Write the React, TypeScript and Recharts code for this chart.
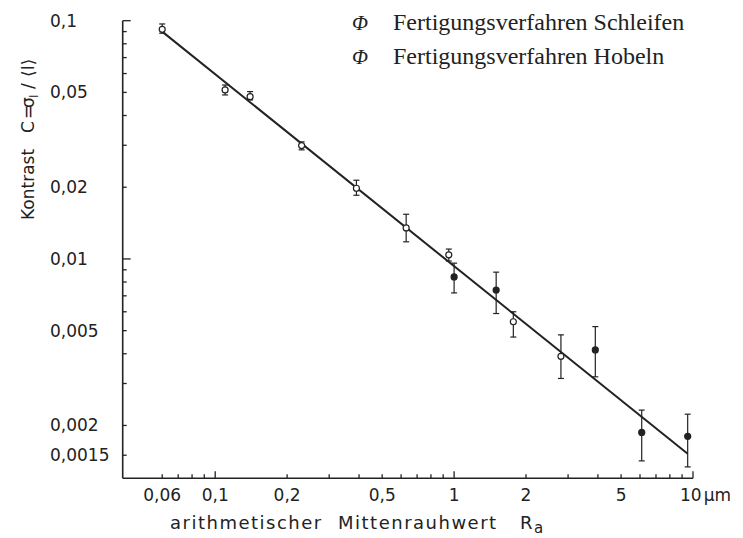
import { ScatterChart, Scatter, XAxis, YAxis, ErrorBar } from "recharts";

// Fertigungsverfahren Schleifen (open markers)
const schleifenRa = [0.06, 0.11, 0.14, 0.23, 0.39, 0.63, 0.95, 1.77, 2.8];
const schleifenC = [0.092, 0.0512, 0.048, 0.0299, 0.0198, 0.0135, 0.0104, 0.00545, 0.0039];
const schleifenLow = [0.0886, 0.0488, 0.0465, 0.0287, 0.0185, 0.0118, 0.0098, 0.0047, 0.00315];
const schleifenHigh = [0.0969, 0.0537, 0.0504, 0.031, 0.0214, 0.0154, 0.011, 0.006, 0.0048];

// Fertigungsverfahren Hobeln (filled markers)
const hobelnRa = [1.0, 1.5, 3.9, 6.1, 9.5];
const hobelnC = [0.0084, 0.0074, 0.00415, 0.00187, 0.0018];
const hobelnLow = [0.0072, 0.0059, 0.0032, 0.00142, 0.00134];
const hobelnHigh = [0.0096, 0.0088, 0.0052, 0.00232, 0.00223];

// fitted straight line (log-log)
const fitRa = [0.06, 9.5];
const fitC = [0.09, 0.00152];

const xMajorTicks = [0.06, 0.1, 0.2, 0.5, 1, 2, 5, 10];
const xMinorTicks = [0.07, 0.08, 0.09, 0.3, 0.4, 0.6, 0.7, 0.8, 0.9, 3, 4, 6, 7, 8, 9];
const yMajorTicks = [0.1, 0.05, 0.02, 0.01, 0.005, 0.002, 0.0015];
const yMinorTicks = [0.09, 0.08, 0.07, 0.06, 0.04, 0.03, 0.009, 0.008, 0.007, 0.006, 0.004, 0.003];
const decades = [0.1, 0.01, 1, 10];

const legendLabels = ["Fertigungsverfahren Schleifen", "Fertigungsverfahren Hobeln"];

const INK = "#222";
const SANS = "'DejaVu Sans', sans-serif";

const toRows = (xs: number[], ys: number[], lo: number[], hi: number[]) =>
  xs.map((x, i) => ({ x, y: ys[i], err: [ys[i] - lo[i], hi[i] - ys[i]] }));

const schleifenData = toRows(schleifenRa, schleifenC, schleifenLow, schleifenHigh);
const hobelnData = toRows(hobelnRa, hobelnC, hobelnLow, hobelnHigh);
const fitData = fitRa.map((x, i) => ({ x, y: fitC[i] }));

const fmt = (v: number) => String(v).replace(".", ",");

const XTick = (props: any) => {
  const { x, y, payload } = props;
  const v = payload.value;
  const len = decades.includes(v) ? 7 : 4;
  const major = xMajorTicks.includes(v);
  return (
    <g>
      <line x1={x} y1={y} x2={x} y2={y - len} stroke={INK} strokeWidth={1.3} />
      {major && v !== 10 && (
        <text x={x} y={y + 23} textAnchor="middle" fontSize={17} fontFamily={SANS} fill={INK}>
          {fmt(v)}
        </text>
      )}
      {v === 10 && (
        <text x={x - 13} y={y + 23} fontSize={17} fontFamily={SANS} fill={INK}>
          10<tspan dx={2}>μm</tspan>
        </text>
      )}
    </g>
  );
};

const YTick = (props: any) => {
  const { x, y, payload } = props;
  const v = payload.value;
  const len = decades.includes(v) ? 8 : 4;
  const major = yMajorTicks.includes(v);
  return (
    <g>
      <line x1={x} y1={y} x2={x + len} y2={y} stroke={INK} strokeWidth={1.3} />
      {major && (
        <text x={50} y={y} dominantBaseline="central" fontSize={17} fontFamily={SANS} fill={INK}>
          {fmt(v)}
        </text>
      )}
    </g>
  );
};

const OpenDot = (props: any) => (
  <circle cx={props.cx} cy={props.cy} r={3} fill="#fff" stroke={INK} strokeWidth={1.2} />
);
const FilledDot = (props: any) => <circle cx={props.cx} cy={props.cy} r={3.6} fill={INK} />;
const NoDot = () => <g />;

const App = () => {
  return (
    <div style={{ position: "absolute", left: 0, top: 0, width: 743, height: 538, background: "#fff" }}>
      <ScatterChart width={743} height={538} margin={{ top: 20.7, right: 50, bottom: 58.7, left: 121.7 }}>
        <XAxis
          type="number"
          dataKey="x"
          scale="log"
          domain={[0.041, 10]}
          allowDataOverflow
          ticks={[...xMajorTicks, ...xMinorTicks]}
          interval={0}
          height={1}
          tickSize={0}
          tickMargin={0}
          tick={<XTick />}
          axisLine={{ stroke: INK, strokeWidth: 1.6 }}
        />
        <YAxis
          type="number"
          dataKey="y"
          scale="log"
          domain={[0.0012, 0.1]}
          allowDataOverflow
          ticks={[...yMajorTicks, ...yMinorTicks]}
          interval={0}
          width={1}
          tickSize={0}
          tickMargin={0}
          tick={<YTick />}
          axisLine={{ stroke: INK, strokeWidth: 1.6 }}
        />
        <Scatter
          data={fitData}
          line={{ stroke: INK, strokeWidth: 2 }}
          shape={<NoDot />}
          isAnimationActive={false}
          legendType="none"
        />
        <Scatter data={schleifenData} shape={<OpenDot />} isAnimationActive={false}>
          <ErrorBar dataKey="err" direction="y" width={3} stroke={INK} strokeWidth={1.2} />
        </Scatter>
        <Scatter data={hobelnData} shape={<FilledDot />} isAnimationActive={false}>
          <ErrorBar dataKey="err" direction="y" width={3} stroke={INK} strokeWidth={1.2} />
        </Scatter>
      </ScatterChart>

      <svg
        width={743}
        height={538}
        style={{ position: "absolute", left: 0, top: 0, pointerEvents: "none" }}
      >
        {/* y axis title */}
        <text transform="translate(34,220) rotate(-90)" fontSize={17} fontFamily={SANS} fill={INK}>
          <tspan x={0}>Kontrast</tspan>
          <tspan x={87}>C</tspan>
          <tspan x={101}>=</tspan>
          <tspan x={112}>σ</tspan>
          <tspan x={122} dy={4} fontSize={12}>I</tspan>
          <tspan x={131} dy={-4}>/</tspan>
          <tspan x={143}>⟨I⟩</tspan>
        </text>

        {/* x axis title */}
        <text y={529} fontSize={18} fontFamily={SANS} fill={INK} letterSpacing={1.5}>
          <tspan x={170}>arithmetischer</tspan>
          <tspan x={338}>Mittenrauhwert</tspan>
          <tspan x={520}>R</tspan>
          <tspan x={534} dy={4} fontSize={15}>a</tspan>
        </text>

        {/* legend */}
        {legendLabels.map((label, i) => (
          <g key={label}>
            <text
              x={360}
              y={30 + i * 34}
              textAnchor="middle"
              fontSize={21}
              fontStyle="italic"
              fontFamily="'Liberation Serif', serif"
              fill={INK}
            >
              Φ
            </text>
            <text
              x={393}
              y={30 + i * 34}
              fontSize={24}
              fontFamily="'Liberation Serif', serif"
              fill={INK}
            >
              {label}
            </text>
          </g>
        ))}
      </svg>
    </div>
  );
};

export default App;
